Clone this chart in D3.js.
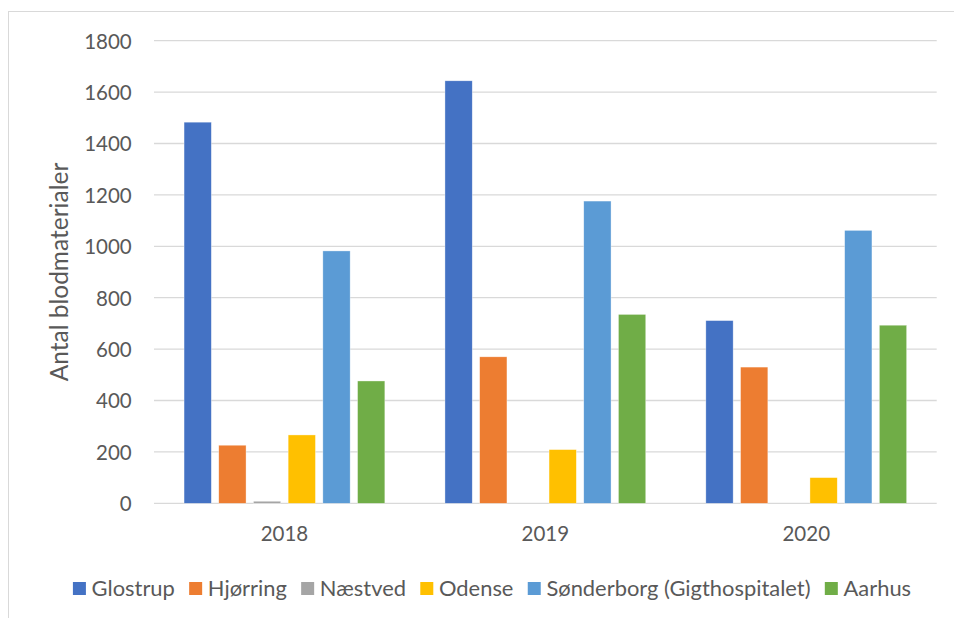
<!DOCTYPE html>
<html>
<head>
<meta charset="utf-8">
<script src="https://cdn.jsdelivr.net/npm/d3@7/dist/d3.min.js"></script>
<style>
  html, body { margin: 0; padding: 0; background: #fff; }
  svg { display: block; }
  text { font-family: Lato, "Open Sans", sans-serif; fill: #595959; }
</style>
</head>
<body>
<svg id="chart" width="954" height="618"></svg>
<script>
const categories = ["2018", "2019", "2020"];
const seriesNames = ["Glostrup", "Hjørring", "Næstved", "Odense", "Sønderborg (Gigthospitalet)", "Aarhus"];
const seriesColors = ["#4472C4", "#ED7D31", "#A5A5A5", "#FFC000", "#5B9BD5", "#70AD47"];
const glostrup   = [1483, 1644, 711];
const hjorring   = [226, 570, 530];
const naestved   = [8, 0, 0];
const odense     = [266, 209, 100];
const sonderborg = [982, 1176, 1062];
const aarhus     = [476, 735, 693];
const yTicks = [0, 200, 400, 600, 800, 1000, 1200, 1400, 1600, 1800];
const yLabel = "Antal blodmaterialer";

const seriesValues = [glostrup, hjorring, naestved, odense, sonderborg, aarhus];

const svg = d3.select("#chart");
const plot = { left: 154, right: 936.7, top: 40.7, bottom: 503.3 };

// outer chart border (extends past the right/bottom edge like the reference)
svg.append("rect")
  .attr("x", 8.5).attr("y", 11.5)
  .attr("width", 1000).attr("height", 700)
  .attr("fill", "#fff").attr("stroke", "#d9d9d9").attr("stroke-width", 1);

const x = d3.scaleBand().domain(categories).range([plot.left, plot.right]).padding(0);
const y = d3.scaleLinear().domain([0, 1800]).range([plot.bottom, plot.top]);

const pitch = 34.7, barW = 27.3;
const groupW = pitch * (seriesNames.length - 1) + barW;
const xs = d3.scaleBand().domain(seriesNames)
  .range([0, groupW])
  .paddingInner((pitch - barW) / pitch)
  .paddingOuter(0);
const groupOffset = (x.bandwidth() - groupW) / 2;

// gridlines
svg.append("g").selectAll("line").data(yTicks).join("line")
  .attr("x1", plot.left).attr("x2", plot.right)
  .attr("y1", d => y(d)).attr("y2", d => y(d))
  .attr("stroke", "#d9d9d9").attr("stroke-width", 1.3);

// y tick labels
const yAxis = d3.axisLeft(y).tickValues(yTicks).tickSize(0).tickPadding(0).tickFormat(d3.format("d"));
const yg = svg.append("g").attr("transform", `translate(${131.7},0)`).call(yAxis);
yg.select(".domain").remove();
yg.selectAll("text").attr("font-size", 20.5).attr("fill", "#595959")
  .attr("font-family", "Lato, 'Open Sans', sans-serif").attr("dy", "0.36em");

// bars
const rows = [];
categories.forEach((c, ci) => {
  seriesNames.forEach((s, si) => rows.push({ cat: c, series: s, value: seriesValues[si][ci], color: seriesColors[si] }));
});
svg.append("g").selectAll("rect").data(rows.filter(d => d.value > 0)).join("rect")
  .attr("x", d => x(d.cat) + groupOffset + xs(d.series))
  .attr("width", xs.bandwidth())
  .attr("y", d => y(d.value))
  .attr("height", d => y(0) - y(d.value))
  .attr("fill", d => d.color)
  .attr("stroke", "#ffffff").attr("stroke-width", 0.6).attr("stroke-opacity", 0.6);

// x labels
const xAxis = d3.axisBottom(x).tickSize(0).tickPadding(0);
const xg = svg.append("g").attr("transform", `translate(0,${526})`).call(xAxis);
xg.select(".domain").remove();
xg.selectAll("text").attr("font-size", 20.5).attr("fill", "#595959")
  .attr("font-family", "Lato, 'Open Sans', sans-serif").attr("dy", "0.72em");

// y axis title
svg.append("text")
  .attr("transform", `translate(68,272) rotate(-90)`)
  .attr("text-anchor", "middle")
  .attr("font-size", 24.5)
  .text(yLabel);

// legend
const lg = svg.append("g");
const items = lg.selectAll("g").data(seriesNames).join("g");
items.append("rect").attr("width", 13).attr("height", 13).attr("y", 582)
  .attr("fill", (d, i) => seriesColors[i]);
items.append("text").attr("x", 18.7).attr("y", 596).attr("font-size", 21.9).text(d => d);
let cx = 0;
const offsets = [];
items.each(function () {
  offsets.push(cx);
  const w = d3.select(this).select("text").node().getComputedTextLength();
  cx += 18.7 + w + 14.3;
});
const total = cx - 14.3;
const start = 492 - total / 2;
items.attr("transform", (d, i) => `translate(${start + offsets[i]},0)`);
</script>
</body>
</html>
